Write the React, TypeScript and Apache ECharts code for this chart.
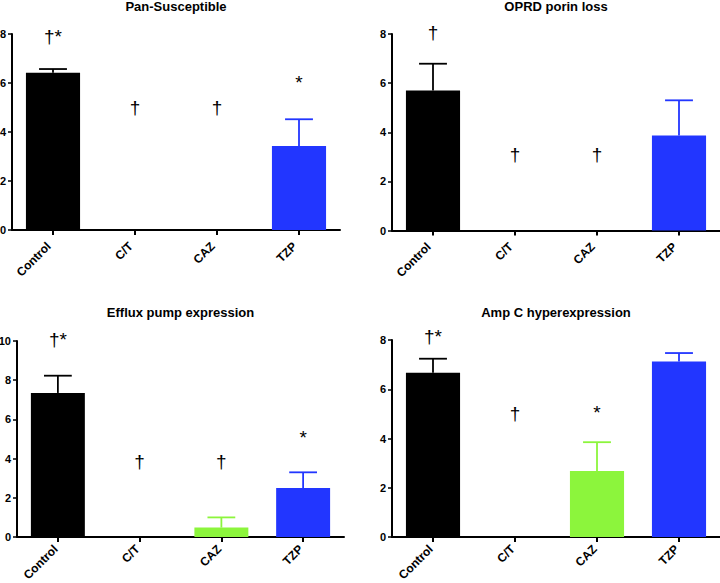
import React, { useEffect, useRef } from "react";
import * as echarts from "echarts";

const categories = ["Control", "C/T", "CAZ", "TZP"];
const barColors = ["#000000", "#000000", "#8cf53c", "#2236ff"];

const titles = ["Pan-Susceptible", "OPRD porin loss", "Efflux pump expression", "Amp C hyperexpression"];
const yMax = [8, 8, 10, 8];

const panSusMean = [6.42, 0, 0, 3.43];
const panSusUpper = [6.57, 0, 0, 4.52];
const panSusMark = ["†*", "†", "†", "*"];
const panSusMarkY = [7.9, 5.0, 5.0, 6.04];

const oprdMean = [5.7, 0, 0, 3.87];
const oprdUpper = [6.79, 0, 0, 5.3];
const oprdMark = ["†", "†", "†", ""];
const oprdMarkY = [8.05, 3.08, 3.08, 0];

const effluxMean = [7.35, 0, 0.48, 2.5];
const effluxUpper = [8.23, 0, 1.0, 3.3];
const effluxMark = ["†*", "†", "†", "*"];
const effluxMarkY = [10.1, 3.83, 3.83, 5.09];

const ampcMean = [6.67, 0, 2.68, 7.13];
const ampcUpper = [7.24, 0, 3.85, 7.47];
const ampcMark = ["†*", "†", "*", ""];
const ampcMarkY = [8.14, 5.03, 5.07, 0];

const panels = [
  { mean: panSusMean, upper: panSusUpper, mark: panSusMark, markY: panSusMarkY },
  { mean: oprdMean, upper: oprdUpper, mark: oprdMark, markY: oprdMarkY },
  { mean: effluxMean, upper: effluxUpper, mark: effluxMark, markY: effluxMarkY },
  { mean: ampcMean, upper: ampcUpper, mark: ampcMark, markY: ampcMarkY },
];

const FONT = 'Arial, "Liberation Sans", Helvetica, sans-serif';

const grids = [
  { left: 12, top: 34, width: 328, height: 196 },
  { left: 392, top: 34, width: 328, height: 196.5 },
  { left: 17, top: 341, width: 327, height: 196 },
  { left: 392, top: 340, width: 328, height: 197 },
];

export default function App() {
  const ref = useRef<HTMLDivElement>(null);
  useEffect(() => {
    if (!ref.current) return;
    const chart = echarts.init(ref.current, null, { renderer: "svg" });

    const xAxis: any[] = [];
    const yAxis: any[] = [];
    const series: any[] = [];
    const graphic: any[] = [];

    panels.forEach((p, i) => {
      const g = grids[i];
      const bottomRow = i >= 2;
      xAxis.push({
        type: "category",
        gridIndex: i,
        data: categories,
        axisLine: { show: true, lineStyle: { color: "#000", width: 2 } },
        axisTick: { show: true, alignWithLabel: true, length: 5, lineStyle: { color: "#000", width: 2 } },
        axisLabel: {
          rotate: 45,
          margin: bottomRow ? 8 : 10,
          padding: bottomRow ? [0, 3, 0, 0] : [0, 6, 0, 0],
          color: "#000",
          fontWeight: "bold",
          fontSize: 12,
          fontFamily: FONT,
        },
        splitLine: { show: false },
      });
      yAxis.push({
        type: "value",
        gridIndex: i,
        min: 0,
        max: yMax[i],
        interval: 2,
        axisLine: { show: true, lineStyle: { color: "#000", width: 2 } },
        axisTick: { show: true, length: 4, lineStyle: { color: "#000", width: 1.5 } },
        axisLabel: { margin: 6, color: "#000", fontWeight: "bold", fontSize: 11, fontFamily: FONT },
        splitLine: { show: false },
      });
      series.push({
        type: "bar",
        xAxisIndex: i,
        yAxisIndex: i,
        barWidth: "66%",
        data: p.mean.map((v, k) => ({
          value: v,
          itemStyle: { color: barColors[k] },
        })),
        z: 2,
      });
      series.push({
        type: "custom",
        xAxisIndex: i,
        yAxisIndex: i,
        z: 3,
        data: p.mean.map((m, k) => [k, m, p.upper[k]]),
        renderItem: (params: any, api: any) => {
          const x = api.value(0);
          const m = api.value(1);
          const u = api.value(2);
          if (!(u > m)) return null;
          const p0 = api.coord([x, m]);
          const p1 = api.coord([x, u]);
          const band = api.size([1, 0])[0];
          const half = band * 0.17;
          const col = barColors[params.dataIndex];
          return {
            type: "group",
            children: [
              { type: "line", shape: { x1: p0[0], y1: p0[1], x2: p1[0], y2: p1[1] }, style: { stroke: col, lineWidth: 1.8 } },
              { type: "line", shape: { x1: p1[0] - half, y1: p1[1], x2: p1[0] + half, y2: p1[1] }, style: { stroke: col, lineWidth: 1.8 } },
            ],
          };
        },
      });
      series.push({
        type: "custom",
        xAxisIndex: i,
        yAxisIndex: i,
        z: 4,
        clip: false,
        data: p.markY.map((y, k) => [k, y]),
        renderItem: (params: any, api: any) => {
          const txt = p.mark[params.dataIndex];
          if (!txt) return null;
          const pt = api.coord([api.value(0), api.value(1)]);
          return {
            type: "text",
            x: pt[0],
            y: pt[1],
            style: {
              text: txt,
              align: "center",
              verticalAlign: "middle",
              fontSize: 19,
              fontFamily: FONT,
              fill: "#000",
            },
          };
        },
      });
      graphic.push({
        type: "text",
        x: g.left + g.width / 2,
        y: i < 2 ? 6 : 312,
        style: {
          text: titles[i],
          align: "center",
          verticalAlign: "middle",
          fontSize: 13,
          fontWeight: "bold",
          fontFamily: FONT,
          fill: "#000",
        },
      });
    });

    chart.setOption({
      animation: false,
      backgroundColor: "#ffffff",
      grid: grids.map((g) => ({ ...g, containLabel: false, outerBoundsMode: "none" })),
      xAxis,
      yAxis,
      series,
      graphic,
    });

    return () => chart.dispose();
  }, []);

  return (
    <div
      ref={ref}
      style={{ position: "fixed", left: 0, top: 0, width: 720, height: 583, background: "#fff" }}
    />
  );
}
